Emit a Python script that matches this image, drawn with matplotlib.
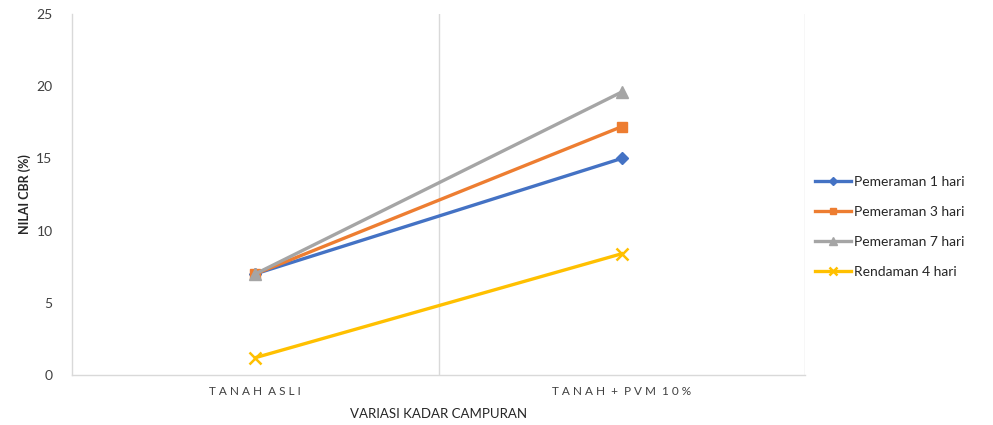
import matplotlib
matplotlib.use("Agg")
import matplotlib.pyplot as plt

plt.rcParams["font.family"] = ["Lato", "DejaVu Sans"]

CATEGORIES = ["T A N A H  A S L I", "T A N A H  +  P V M  1 0 %"]
PEMERAMAN_1 = [7.0, 15.0]
PEMERAMAN_3 = [7.0, 17.2]
PEMERAMAN_7 = [7.0, 19.6]
RENDAMAN_4 = [1.2, 8.4]

SERIES = [
    ("Pemeraman 1 hari", PEMERAMAN_1, "#4472C4", "D", 6),
    ("Pemeraman 3 hari", PEMERAMAN_3, "#ED7D31", "s", 7),
    ("Pemeraman 7 hari", PEMERAMAN_7, "#A5A5A5", "^", 8),
    ("Rendaman 4 hari", RENDAMAN_4, "#FFC000", "x", 8),
]

fig = plt.figure(figsize=(9.93, 4.25), dpi=100)
ax = fig.add_axes([0.0725, 0.1176, 0.7382, 0.8494])

x = list(range(len(CATEGORIES)))
for label, vals, color, marker, ms in SERIES:
    ax.plot(x, vals, color=color, lw=2.4, marker=marker, ms=ms,
            mew=1.8 if marker == "x" else 1, mec=color, mfc=color, label=label)

ax.set_xlim(-0.5, 1.5)
ax.set_ylim(0, 25)
ax.set_yticks([0, 5, 10, 15, 20, 25])
ax.set_xticks(x)
ax.set_xticklabels(CATEGORIES, fontsize=8.5, color="#404040")
ax.tick_params(axis="y", length=0, pad=14, labelsize=10, labelcolor="#404040")
ax.tick_params(axis="x", length=0, pad=8)

# category separators
for xv in (0.5, 1.5):
    ax.axvline(xv, color="#D9D9D9", lw=1, zorder=0)

for side in ("top", "right"):
    ax.spines[side].set_visible(False)
for side in ("left", "bottom"):
    ax.spines[side].set_color("#D9D9D9")
    ax.spines[side].set_linewidth(1)

ax.set_ylabel("NILAI CBR (%)", fontsize=9, fontweight="bold", color="#262626", labelpad=4)
ax.set_xlabel("VARIASI KADAR CAMPURAN", fontsize=9.5, color="#262626", labelpad=8)

ax.legend(loc="center left", bbox_to_anchor=(1.0, 0.41), frameon=False,
          fontsize=10, handlelength=2.6, handletextpad=0.2, labelspacing=1.3,
          borderaxespad=0.3, markerscale=0.7, labelcolor="#262626")

fig.savefig("out.png", dpi=100)
